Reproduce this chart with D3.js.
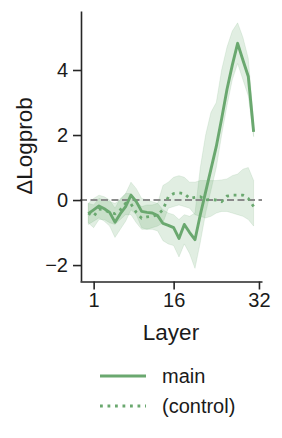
<!DOCTYPE html>
<html>
<head>
<meta charset="utf-8">
<script src="https://cdn.jsdelivr.net/npm/d3@7"></script>
<style>
  body { margin: 0; background: #fff; }
  text { font-family: "Liberation Sans", Arial, sans-serif; fill: #1a1a1a; }
</style>
</head>
<body>
<svg id="chart" width="282" height="438"></svg>
<script>
// layers are 0-based, tick labels sit on 1, 16, 32
const layers = d3.range(0, 32);

const mainMean = [-0.42, -0.3, -0.18, -0.27, -0.38, -0.68, -0.42, -0.2, 0.15, -0.05,
  -0.35, -0.38, -0.4, -0.48, -0.72, -0.78, -0.85, -1.18, -0.75, -1.0,
  -1.22, -0.45, 0.25, 0.95, 1.65, 2.5, 3.4, 4.15, 4.82, 4.3, 3.8, 2.1];
const mainLo = [-0.75, -0.65, -0.55, -0.65, -0.8, -1.15, -0.9, -0.65, -0.3, -0.45,
  -0.85, -0.9, -0.9, -0.95, -1.25, -1.35, -1.4, -1.75, -1.35, -1.65,
  -2.1, -1.3, -0.4, 0.3, 1.0, 2.0, 2.9, 3.7, 4.2, 3.7, 3.2, 1.95];
const mainHi = [-0.1, 0.05, 0.15, 0.1, 0.0, -0.25, 0.05, 0.2, 0.55, 0.35,
  0.05, 0.0, -0.05, -0.1, -0.3, -0.4, -0.45, -0.6, -0.45, -0.5,
  -0.4, 1.0, 2.0, 2.7, 3.0, 4.0, 4.7, 5.2, 5.45, 5.0, 4.35, 2.4];

const ctrlMean = [-0.4, -0.5, -0.28, -0.3, -0.38, -0.42, -0.3, -0.1, -0.12, -0.38,
  -0.56, -0.52, -0.5, -0.45, -0.3, 0.1, 0.2, 0.22, 0.2, 0.05,
  0.08, 0.1, 0.0, 0.02, 0.0, -0.05, 0.12, 0.15, 0.15, 0.15, 0.05, -0.2];
const ctrlLo = [-0.7, -0.85, -0.6, -0.6, -0.7, -0.75, -0.6, -0.45, -0.45, -0.7,
  -0.9, -0.9, -0.85, -0.8, -0.7, -0.25, -0.2, -0.15, -0.2, -0.25,
  -0.45, -0.5, -0.55, -0.5, -0.4, -0.35, -0.35, -0.4, -0.45, -0.5, -0.6, -0.8];
const ctrlHi = [-0.1, -0.15, 0.05, 0.0, -0.05, -0.1, 0.0, 0.2, 0.2, -0.05,
  -0.2, -0.15, -0.15, -0.1, 0.45, 0.55, 0.7, 0.75, 0.7, 0.55,
  0.55, 0.6, 0.6, 0.6, 0.6, 0.62, 0.65, 0.75, 0.8, 0.95, 1.0, 0.6];

const xTicks = [1, 16, 32];
const xTickLabels = ["1", "16", "32"];
const yTicks = [-2, 0, 2, 4];
const legendLabels = ["main", "(control)"];

const green = "#6aa86f";
const axisColor = "#262626";

const svg = d3.select("#chart");

const x = d3.scaleLinear().domain([-1.56, 32.57]).range([80, 262]);
const y = d3.scaleLinear().domain([-2.49, 5.815]).range([281, 11]);

const band = (lo, hi) => d3.area()
  .x((d, i) => x(layers[i]))
  .y0((d, i) => y(lo[i]))
  .y1((d, i) => y(hi[i]));

const line = vals => d3.line()
  .x((d, i) => x(layers[i]))
  .y((d, i) => y(vals[i]));

// confidence bands
svg.append("path")
  .attr("d", band(mainLo, mainHi)(layers))
  .attr("fill", green).attr("fill-opacity", 0.2)
  .attr("stroke", green).attr("stroke-opacity", 0.15);
svg.append("path")
  .attr("d", band(ctrlLo, ctrlHi)(layers))
  .attr("fill", green).attr("fill-opacity", 0.2)
  .attr("stroke", green).attr("stroke-opacity", 0.15);

// zero reference
svg.append("line")
  .attr("x1", 80).attr("x2", 262)
  .attr("y1", y(0)).attr("y2", y(0))
  .attr("stroke", "#8a8a8a").attr("stroke-width", 2)
  .attr("stroke-dasharray", "7,3.5");

svg.append("path")
  .attr("d", line(ctrlMean)(layers))
  .attr("fill", "none").attr("stroke", green)
  .attr("stroke-width", 2.8).attr("stroke-dasharray", "2.8,4.7");

svg.append("path")
  .attr("d", line(mainMean)(layers))
  .attr("fill", "none").attr("stroke", green)
  .attr("stroke-width", 2.9).attr("stroke-linejoin", "round");

// axes
const yAxis = svg.append("g")
  .attr("transform", "translate(81,0)")
  .call(d3.axisLeft(y).tickValues(yTicks).tickSize(8).tickSizeOuter(0).tickPadding(5));
const xAxis = svg.append("g")
  .attr("transform", "translate(0,281.5)")
  .call(d3.axisBottom(x).tickValues(xTicks).tickFormat((d, i) => xTickLabels[i])
    .tickSize(8).tickSizeOuter(0).tickPadding(3));

[xAxis, yAxis].forEach(g => {
  g.select(".domain").attr("stroke", axisColor).attr("stroke-width", 1.6);
  g.selectAll(".tick line").attr("stroke", axisColor).attr("stroke-width", 1.6);
  g.selectAll(".tick text").attr("fill", "#1a1a1a")
    .style("font-size", "20px").style("font-family", '"Liberation Sans", Arial, sans-serif');
});

svg.append("text")
  .attr("x", 171).attr("y", 340)
  .attr("text-anchor", "middle")
  .style("font-size", "22.5px")
  .text("Layer");

svg.append("text")
  .attr("transform", "translate(32,146) rotate(-90)")
  .attr("text-anchor", "middle")
  .style("font-size", "22.5px")
  .text("ΔLogprob");

// legend
const legend = svg.append("g");
legendLabels.forEach((lab, i) => {
  const ly = 376 + i * 30;
  legend.append("line")
    .attr("x1", 100).attr("x2", 146).attr("y1", ly).attr("y2", ly)
    .attr("stroke", green).attr("stroke-width", 2.8)
    .attr("stroke-dasharray", i === 1 ? "2.8,4.7" : null);
  legend.append("text")
    .attr("x", 162).attr("y", ly + 7)
    .style("font-size", "20px")
    .text(lab);
});
</script>
</body>
</html>
